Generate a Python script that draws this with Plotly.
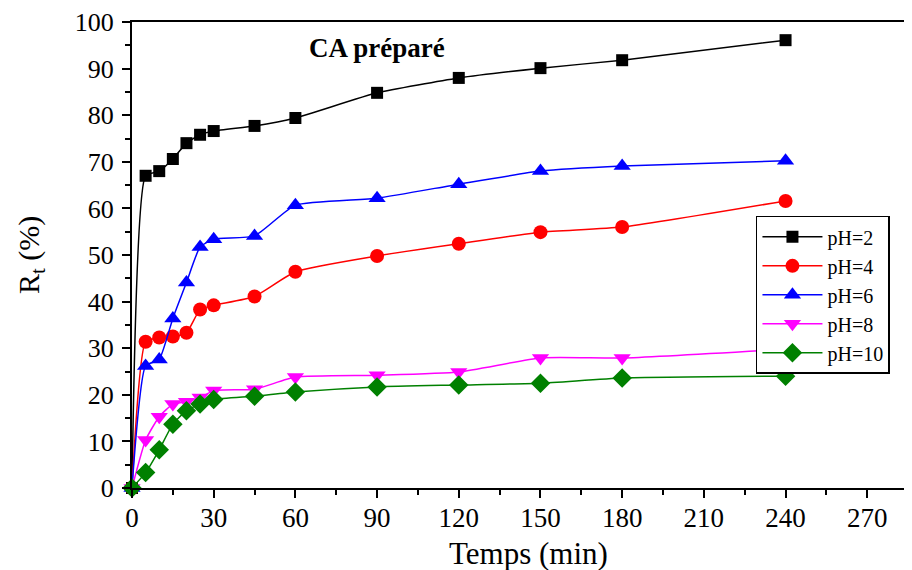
import plotly.graph_objects as go

time_min = [0, 5, 10, 15, 20, 25, 30, 45, 60, 90, 120, 150, 180, 240]
ph2 = [0, 67.0, 68.0, 70.6, 74.0, 75.8, 76.6, 77.7, 79.4, 84.8, 88.0, 90.1, 91.8, 96.1]
ph4 = [0, 31.4, 32.3, 32.5, 33.3, 38.3, 39.2, 41.1, 46.4, 49.8, 52.4, 54.9, 56.0, 61.6]
ph6 = [0, 26.2, 27.6, 36.4, 44.1, 51.7, 53.4, 54.1, 60.7, 62.2, 65.2, 68.0, 69.1, 70.2]
ph8 = [0, 10.3, 15.3, 18.0, 18.5, 19.4, 20.9, 21.2, 23.8, 24.2, 24.9, 27.9, 27.9, 29.8]
ph10 = [0, 3.3, 8.2, 13.7, 16.6, 18.0, 19.0, 19.7, 20.6, 21.7, 22.1, 22.5, 23.6, 24.0]
x_ticks = [0, 30, 60, 90, 120, 150, 180, 210, 240, 270]
y_ticks = [0, 10, 20, 30, 40, 50, 60, 70, 80, 90, 100]

series = [
    ("pH=2", ph2, "black", "square", 12),
    ("pH=4", ph4, "red", "circle", 14),
    ("pH=6", ph6, "blue", "triangle-up", 15),
    ("pH=8", ph8, "magenta", "triangle-down", 15),
    ("pH=10", ph10, "green", "diamond", 15),
]

FONT = "Liberation Serif, Times New Roman, serif"
fig = go.Figure()
for name, vals, color, sym, size in series:
    fig.add_trace(go.Scatter(
        x=time_min, y=vals, name=name, mode="lines+markers",
        line=dict(color=color, width=1.5, shape="spline", smoothing=0.5),
        marker=dict(color=color, symbol=sym, size=size),
        cliponaxis=False,
    ))

fig.add_annotation(x=90, y=94.4, text="<b>CA préparé</b>", showarrow=False,
                   font=dict(family=FONT, size=27, color="black"))
fig.add_annotation(xref="paper", yref="paper", x=0.509, y=0, yshift=-65,
                   xanchor="center", yanchor="middle",
                   text="Temps (min)", showarrow=False,
                   font=dict(family=FONT, size=31, color="black"))
fig.add_annotation(xref="paper", yref="paper", x=0, xshift=-101, y=0.5,
                   xanchor="center", yanchor="middle",
                   text="R<sub>t</sub> (%)", showarrow=False, textangle=-90,
                   font=dict(family=FONT, size=30, color="black"))

fig.update_layout(
    width=912, height=570,
    margin=dict(l=124, r=10, t=14, b=90, autoexpand=False),
    plot_bgcolor="white", paper_bgcolor="white",
    font=dict(family=FONT, size=26, color="black"),
    legend=dict(x=0.802, y=0.584, xanchor="left", yanchor="top",
                bordercolor="black", borderwidth=1.5, bgcolor="white",
                font=dict(family=FONT, size=20), tracegroupgap=0,
                itemwidth=60),
    showlegend=True,
)
fig.update_xaxes(
    range=[0, 285.7], tickvals=x_ticks, automargin=False,
    ticks="outside", ticklen=8, tickwidth=1.5, tickcolor="black",
    ticklabelstandoff=-3,
    minor=dict(tickvals=[15, 45, 75, 105, 135, 165, 195, 225, 255, 285], ticks="outside",
               ticklen=5, tickwidth=1.5, tickcolor="black"),
    showline=True, linecolor="black", linewidth=2, mirror=True,
    showgrid=False, zeroline=False,
    tickfont=dict(family=FONT, size=27),
)
fig.update_yaxes(
    range=[0, 100], tickvals=y_ticks, automargin=False,
    ticks="outside", ticklen=8, tickwidth=1.5, tickcolor="black",
    ticklabelstandoff=3,
    minor=dict(tickvals=list(range(5, 100, 10)), ticks="outside",
               ticklen=5, tickwidth=1.5, tickcolor="black"),
    showline=True, linecolor="black", linewidth=2, mirror=False,
    showgrid=False, zeroline=False,
    tickfont=dict(family=FONT, size=26),
)

fig.write_html("out.html")
